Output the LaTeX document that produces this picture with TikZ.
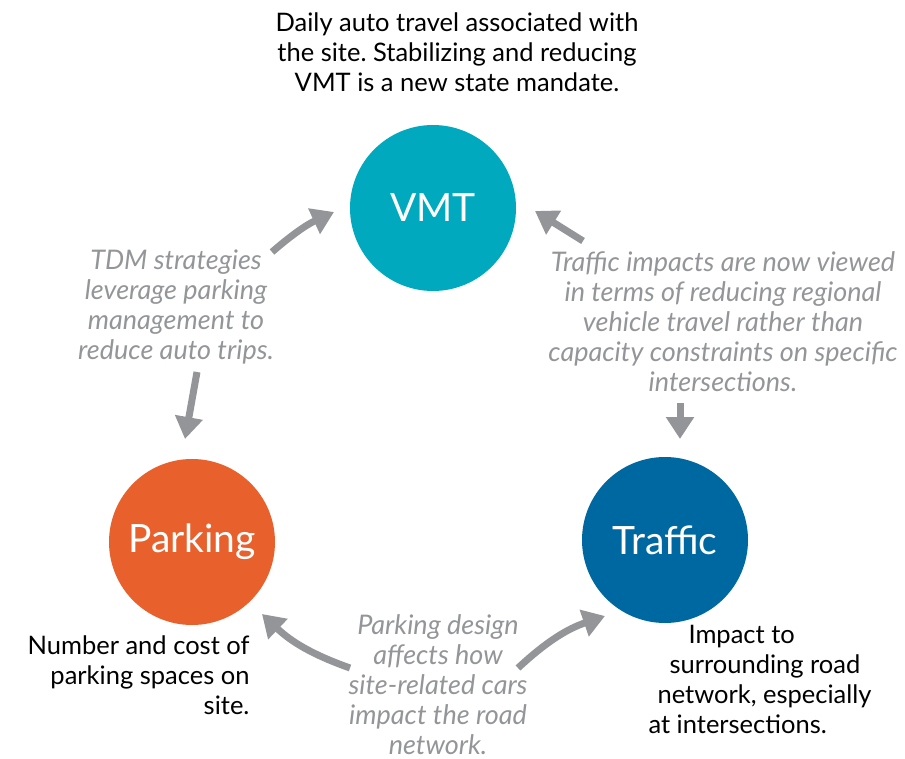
\documentclass[tikz,border=0pt]{standalone}
\usepackage{fontspec}
\setmainfont{Lato}
\usetikzlibrary{arrows.meta}
\definecolor{vmtteal}{HTML}{00A9BD}
\definecolor{parkorange}{HTML}{E8602C}
\definecolor{trafblue}{HTML}{0068A0}
\definecolor{arrowgray}{HTML}{939598}
\frenchspacing
\begin{document}
\begin{tikzpicture}[x=1pt, y=-1pt]
    % Styles
    \tikzset{
      hub/.style={circle, minimum size=166pt, inner sep=0pt, text=white,
        font=\fontsize{39}{39}\selectfont},
      caption/.style={text=black, font=\fontsize{25.5}{30}\selectfont},
      note/.style={text=arrowgray, align=center,
        font=\fontsize{27}{30}\selectfont\itshape},
      flow/.style={draw=arrowgray, line width=7pt,
        -{Triangle[length=22pt, width=27pt]}}
    }
    \useasboundingbox (0,0) rectangle (905,759);

    % The three hubs
    \node[hub, fill=vmtteal] (vmt) at (433, 208) {VMT};
    \node[hub, fill=parkorange] (parking) at (192, 542) {Parking};
    \node[hub, fill=trafblue] (traffic) at (665, 540) {Traffic};

    % Captions
    \node[caption, align=center] (vmtcap) at (457, 52)
      {Daily auto travel associated with\\the site. Stabilizing and reducing\\VMT is a new state mandate.};
    \node[caption, align=right, anchor=east] (parkcap) at (253, 675)
      {Number and cost of\\parking spaces on\\site.};
    \node[caption, align=left, anchor=west] (trafcap) at (645, 679)
      {\hspace*{40pt}Impact to\\\hspace*{21pt}surrounding road\\\hspace*{9pt}network, especially\\at intersections.};

    % Notes between hubs
    \node[note] (tdm) at (176, 307)
      {TDM strategies\\leverage parking\\management to\\reduce auto trips.};
    \node[note] (impacts) at (723, 322)
      {Traffic impacts are now viewed\\in terms of reducing regional\\vehicle travel rather than\\capacity constraints on specific\\intersections.};
    \node[note] (design) at (438, 685)
      {Parking design\\affects how\\site-related cars\\impact the road\\network.};

    % Arrow ends
    \coordinate (t1) at (272, 252);  \coordinate (h1) at (334, 212);
    \coordinate (t2) at (197, 372);  \coordinate (h2) at (185, 439);
    \coordinate (t3) at (583, 241);  \coordinate (h3) at (535, 211);
    \coordinate (t4) at (680, 403);  \coordinate (h4) at (680, 439);
    \coordinate (t5) at (350, 668);  \coordinate (h5) at (262, 614);
    \coordinate (t6) at (518, 668);  \coordinate (h6) at (605, 616);

    % Arrows
    \draw[flow] (t1) to[bend left=8] (h1);
    \draw[flow] (t2) -- (h2);
    \draw[flow] (t3) -- (h3);
    \draw[flow] (t4) -- (h4);
    \draw[flow] (t5) to[bend left=12] (h5);
    \draw[flow] (t6) to[bend left=12] (h6);
\end{tikzpicture}
\end{document}
